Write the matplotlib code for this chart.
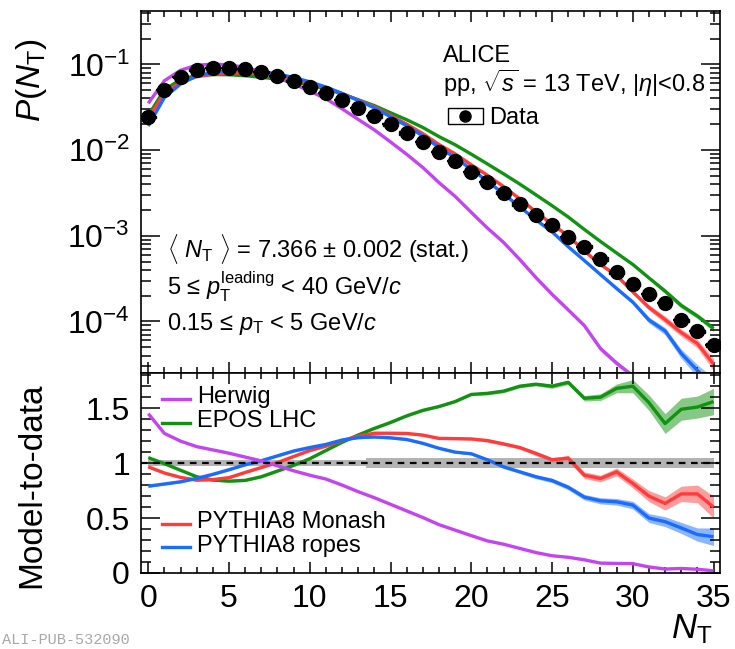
import numpy as np
import matplotlib
matplotlib.use('Agg')
import matplotlib.pyplot as plt
from matplotlib.patches import Rectangle
from matplotlib.lines import Line2D
from matplotlib.ticker import MultipleLocator, LogLocator, NullFormatter, FuncFormatter

plt.rcParams['font.family'] = ['Liberation Sans', 'DejaVu Sans']
plt.rcParams['mathtext.fontset'] = 'custom'
plt.rcParams['mathtext.rm'] = 'Liberation Sans'
plt.rcParams['mathtext.it'] = 'Liberation Sans:italic'
plt.rcParams['mathtext.sf'] = 'Liberation Sans'
plt.rcParams['mathtext.bf'] = 'Liberation Sans:bold'

# multiplicity in the transverse region
nt = np.arange(36)

# measured P(N_T)
data = [0.0242, 0.0508, 0.0712, 0.0851, 0.0899, 0.0906, 0.0875, 0.0807, 0.0725,
        0.0634, 0.0549, 0.0465, 0.0379, 0.0308, 0.0251, 0.0199, 0.0158, 0.0124,
        0.00948, 0.00739, 0.00551, 0.00421, 0.00319, 0.00236, 0.00175, 0.00132,
        0.000955, 0.000745, 0.000536, 0.000374, 0.000272, 0.000208, 0.000166,
        0.000103, 7.66e-5, 5.3e-5]
# relative systematic uncertainty of the data
syst_rel = [0.025] * 14 + [0.045] * 22

# model / data ratios
herwig = [1.45, 1.27, 1.20, 1.15, 1.12, 1.09, 1.055, 1.02, 0.975, 0.93, 0.89, 0.855,
          0.80, 0.74, 0.685, 0.625, 0.565, 0.505, 0.44, 0.39, 0.34, 0.292, 0.262,
          0.224, 0.186, 0.157, 0.143, 0.12, 0.09, 0.087, 0.085, 0.055, 0.036, 0.041,
          0.034, 0.02]
epos = [1.05, 0.995, 0.935, 0.876, 0.846, 0.836, 0.843, 0.876, 0.928, 0.98, 1.04,
        1.115, 1.19, 1.256, 1.316, 1.37, 1.43, 1.48, 1.515, 1.56, 1.625, 1.635,
        1.655, 1.70, 1.718, 1.70, 1.735, 1.59, 1.60, 1.68, 1.70, 1.55, 1.36, 1.49,
        1.51, 1.56]
monash = [0.966, 0.91, 0.87, 0.845, 0.85, 0.868, 0.915, 0.96, 1.005, 1.06, 1.115,
          1.155, 1.205, 1.245, 1.272, 1.272, 1.27, 1.255, 1.225, 1.223, 1.22, 1.205,
          1.175, 1.142, 1.088, 1.03, 1.045, 0.89, 0.86, 0.92, 0.815, 0.70, 0.633,
          0.72, 0.72, 0.60]
ropes = [0.79, 0.81, 0.83, 0.861, 0.898, 0.94, 0.985, 1.022, 1.066, 1.11, 1.142,
         1.17, 1.21, 1.232, 1.238, 1.23, 1.215, 1.18, 1.135, 1.10, 1.085, 1.03,
         0.966, 0.921, 0.876, 0.842, 0.78, 0.69, 0.657, 0.648, 0.618, 0.50, 0.467,
         0.41, 0.35, 0.33]

# statistical uncertainty of each ratio
herwig_err = [0.006] * 36
epos_err = [0.01] * 21 + [0.015, 0.015, 0.015, 0.015, 0.02, 0.02, 0.025, 0.03, 0.04,
                          0.06, 0.07, 0.09, 0.1, 0.1, 0.12]
monash_err = [0.01] * 21 + [0.015, 0.015, 0.015, 0.02, 0.02, 0.025, 0.03, 0.03, 0.035,
                            0.04, 0.05, 0.06, 0.07, 0.08, 0.1]
ropes_err = [0.01] * 21 + [0.012, 0.015, 0.015, 0.018, 0.02, 0.022, 0.025, 0.028, 0.03,
                           0.035, 0.04, 0.045, 0.05, 0.06, 0.08]

models = [
    ('EPOS LHC', epos, epos_err, '#119211'),
    ('PYTHIA8 Monash', monash, monash_err, '#ff3b3b'),
    ('PYTHIA8 ropes', ropes, ropes_err, '#1a6cff'),
    ('Herwig', herwig, herwig_err, '#c444f2'),
]

W, H = 735, 649


def fx(x):
    return x / W


def fy(y):
    return 1 - y / H


fig = plt.figure(figsize=(W / 100, H / 100), dpi=100)
ax1 = fig.add_axes([fx(141), fy(373), (720 - 141) / W, (373 - 11) / H])
ax2 = fig.add_axes([fx(141), fy(573), (720 - 141) / W, (573 - 373) / H])

d = np.array(data)
s = np.array(syst_rel)

# spectra: models drawn as ratio x data
for name, r, e, c in models:
    r, e = np.array(r), np.array(e)
    ax1.fill_between(nt, d * (r - e), d * (r + e), color=c, alpha=0.45, lw=0)
    ax1.plot(nt, d * r, color=c, lw=2.4, solid_capstyle='butt')
    ax2.fill_between(nt, r - e, r + e, color=c, alpha=0.5, lw=0)
    ax2.plot(nt, r, color=c, lw=2.4, solid_capstyle='butt')

for n, v, sr in zip(nt, d, s):
    ax1.add_patch(Rectangle((n - 0.45, v * (1 - sr)), 0.9, 2 * v * sr,
                            fill=False, ec='k', lw=1.0, zorder=8))
ax1.errorbar(nt, d, xerr=0.5, fmt='o', color='k', ms=10, elinewidth=1.6,
             capsize=0, zorder=10)

# data uncertainty band around unity
ax2.fill_between(nt, 1 - s, 1 + s, step='mid', color='#a0a0a0', alpha=0.8, lw=0)
ax2.axhline(1, color='k', ls=(0, (3, 2.5)), lw=1.6)

ax1.set_yscale('log')
ax1.set_ylim(2.5e-5, 0.42)
ax2.set_ylim(0, 1.82)
for ax in (ax1, ax2):
    ax.set_xlim(-0.45, 35.4)
    ax.xaxis.set_major_locator(MultipleLocator(5))
    ax.xaxis.set_minor_locator(MultipleLocator(1))
    ax.tick_params(which='both', direction='in', top=True, right=True, width=1.1,
                   labelsize=23)
    ax.tick_params(axis='x', which='major', length=8)
    ax.tick_params(axis='x', which='minor', length=4)
    ax.tick_params(axis='y', which='major', length=14, pad=8)
    ax.tick_params(axis='y', which='minor', length=7)
    for sp in ax.spines.values():
        sp.set_linewidth(1.2)

ax1.yaxis.set_major_locator(LogLocator(base=10, numticks=12))
ax1.yaxis.set_minor_locator(LogLocator(base=10, subs=np.arange(2, 10), numticks=12))
ax1.yaxis.set_minor_formatter(NullFormatter())
ax1.tick_params(labelbottom=False)

ax2.yaxis.set_major_locator(MultipleLocator(0.5))
ax2.yaxis.set_minor_locator(MultipleLocator(0.1))
fmt = FuncFormatter(lambda v, p: '%g' % v)
ax2.yaxis.set_major_formatter(fmt)
ax2.xaxis.set_major_formatter(fmt)
ax2.tick_params(axis='x', pad=8)

# axis titles
fig.text(fx(32), fy(38), r'$P(N_{\rm T})$', rotation=90, ha='center', va='top',
         fontsize=24)
fig.text(fx(32), fy(383), 'Model-to-data', rotation=90, ha='center', va='top',
         fontsize=24)
fig.text(fx(712), fy(638), r'$N_{\rm T}$', ha='right', va='baseline', fontsize=25)

# header and data legend
fig.text(fx(443), fy(62), 'ALICE', fontsize=17, va='baseline')
fig.text(fx(443), fy(92), r'pp, $\sqrt{s}$ = 13 TeV, $|\eta|$<0.8', fontsize=17,
         va='baseline')
fig.add_artist(Rectangle((fx(448), fy(124)), 35 / W, 16 / H, fill=False, ec='k',
                         lw=1.0, transform=fig.transFigure))
fig.add_artist(Line2D([fx(465)], [fy(116)], marker='o', ms=8, color='k',
                      transform=fig.transFigure))
fig.text(fx(489), fy(124), 'Data', fontsize=17, va='baseline')

# selection text
fig.text(fx(167), fy(258), r'$\langle\ N_{\rm T}\ \rangle$ = 7.366 ± 0.002 (stat.)',
         fontsize=17, va='baseline')
fig.text(fx(167), fy(295), r'5 ≤ $p_{\rm T}^{\rm leading}$ < 40 GeV/$c$',
         fontsize=17, va='baseline')
fig.text(fx(167), fy(330), r'0.15 ≤ $p_{\rm T}$ < 5 GeV/$c$',
         fontsize=17, va='baseline')

# model legend
leg = [('Herwig', '#c444f2', 399, 403), ('EPOS LHC', '#119211', 423, 427),
       ('PYTHIA8 Monash', '#ff3b3b', 524, 528), ('PYTHIA8 ropes', '#1a6cff', 547, 552)]
for name, c, yl, yt in leg:
    fig.add_artist(Line2D([fx(162), fx(190)], [fy(yl), fy(yl)], color=c, lw=2.4,
                          transform=fig.transFigure))
    fig.text(fx(197), fy(yt), name, fontsize=17, va='baseline')

fig.text(fx(2), fy(647), 'ALI-PUB-532090', family='Liberation Mono', color='#a8a8a8',
         fontsize=11, va='bottom')

fig.savefig('out.png', dpi=100)
